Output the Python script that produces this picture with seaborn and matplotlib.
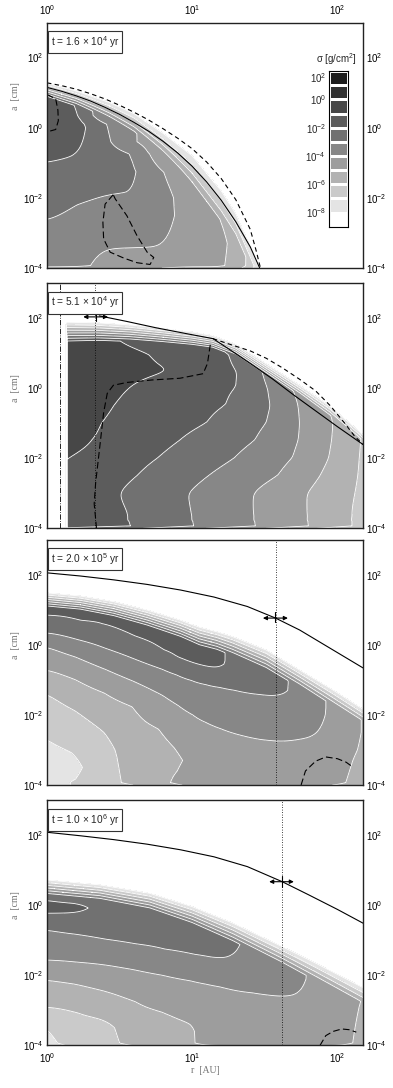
import numpy as np
import matplotlib
matplotlib.use("Agg")
import matplotlib.pyplot as plt
import matplotlib.ticker as mticker
from matplotlib.colors import ListedColormap, BoundaryNorm
import seaborn as sns

sns.set_style("ticks")
plt.rcParams["font.family"] = ["Liberation Sans", "DejaVu Sans"]
plt.rcParams["mathtext.default"] = "regular"
plt.rcParams["mathtext.fontset"] = "cm"

# ── COLOUR LEVELS (log10 sigma) ───────────────────────────────
levels = np.arange(-9, 3)
band_colors = ["#ffffff", "#e4e4e4", "#cacaca", "#b2b2b2", "#9d9d9d", "#878787",
               "#717171", "#5c5c5c", "#474747", "#303030", "#1c1c1c"]
cbar_ticks = [2, 0, -2, -4, -6, -8]
times = ["t = 1.6 × 10$^{4}$ yr", "t = 5.1 × 10$^{4}$ yr",
         "t = 2.0 × 10$^{5}$ yr", "t = 1.0 × 10$^{6}$ yr"]

# ── PANEL 1 (profiles along columns of log r: log a knots, log sigma) ──
p1_cols = [0.0, 0.2, 0.4, 0.6, 0.8, 1.0, 1.2, 1.4, 1.5, 2.3]
p1_a = [[-4.0, -3.93, -3.5, -2.65, -1.0, 0.0, 0.5, 3.0],
        [-4.0, -3.93, -3.5, -2.2, -0.8, 0.0, 0.7, 3.0],
        [-4.0, -3.93, -3.45, -1.92, -1.0, 0.1, 0.35, 3.0],
        [-4.0, -3.93, -3.5, -1.83, -1.25, -0.75, -0.4, 3.0],
        [-4.0, -3.93, -3.5, -2.5, -2.0, -1.27, -0.71, 3.0],
        [-4.0, -3.93, -3.5, -2.5, -1.53, 3.0],
        [-4.0, -3.93, -3.3, -2.65, 3.0],
        [-4.0, -3.93, 3.0],
        [-4.0, 3.0],
        [-4.0, 3.0]]
p1_v = [[-4.3, -3.6, -3.5, -3.0, -2.0, -1.3, -1.2, -1.2],
        [-4.4, -3.7, -3.6, -3.0, -2.0, -1.5, -2.0, -3.0],
        [-4.6, -4.3, -4.0, -3.0, -2.5, -3.0, -3.9, -3.9],
        [-4.8, -4.5, -4.05, -3.0, -2.85, -3.0, -3.9, -3.9],
        [-5.0, -4.6, -4.05, -3.6, -3.55, -4.0, -4.95, -4.95],
        [-5.3, -4.7, -4.6, -4.6, -4.95, -4.95],
        [-5.2, -4.8, -4.7, -4.95, -4.95],
        [-6.2, -5.95, -5.95],
        [-9.0, -9.0],
        [-12.0, -12.0]]
p1_edge_r = [0.0, 0.2, 0.43, 0.6, 0.8, 1.0, 1.2, 1.3, 1.4, 1.47, 1.6, 2.3]
p1_edge_a = [1.27, 1.05, 0.72, 0.40, -0.16, -0.8, -1.8, -2.45, -3.4, -4.1, -6.0, -10.0]
p1_edge_s = [16, 14, 10, 8, 6, 4, 3.5, 3.5, 3.5, 3.5, 3.5, 3.5]
p1_solid_r = [0.0, 0.1, 0.2, 0.3, 0.4, 0.5, 0.6, 0.7, 0.8, 0.9, 1.0, 1.1, 1.2, 1.3, 1.4, 1.47]
p1_solid_a = [1.15, 1.04, 0.91, 0.76, 0.58, 0.38, 0.15, -0.1, -0.39, -0.72, -1.1, -1.55,
              -2.07, -2.68, -3.4, -4.05]
p1_dash_r = [0.0, 0.1, 0.2, 0.3, 0.4, 0.5, 0.6, 0.7, 0.8, 0.9, 1.0, 1.1, 1.2, 1.3, 1.4, 1.44, 1.47]
p1_dash_a = [1.28, 1.2, 1.1, 0.97, 0.82, 0.64, 0.44, 0.22, -0.03, -0.3, -0.6, -0.98, -1.45,
             -2.05, -2.9, -3.5, -4.0]
p1_loop_r = [0.456, 0.40, 0.385, 0.39, 0.435, 0.53, 0.62, 0.71, 0.735, 0.69, 0.62, 0.55, 0.47, 0.456]
p1_loop_a = [-1.91, -2.18, -2.70, -3.17, -3.55, -3.72, -3.85, -3.9, -3.7, -3.55, -3.08, -2.51, -2.03, -1.91]
p1_arc_r = [0.0, 0.06, 0.075, 0.078, 0.06, 0.0]
p1_arc_a = [0.95, 0.82, 0.5, 0.2, -0.05, -0.12]

# ── PANEL 2 (profiles along rows of log a: log r knots, log sigma) ──
p2_rows = [-4.0, -3.93, -3.5, -3.0, -2.5, -2.0, -1.5, -1.0, -0.5, 0.0, 0.5, 1.0, 1.5, 3.0]
p2_r = [[0, 0.125, 0.14, 0.575, 1.01, 1.435, 1.80, 2.10, 2.3],
        [0, 0.125, 0.14, 0.575, 1.01, 1.435, 1.80, 2.10, 2.3],
        [0, 0.125, 0.14, 0.55, 0.99, 1.42, 1.79, 2.10, 2.3],
        [0, 0.125, 0.14, 0.50, 0.97, 1.42, 1.79, 2.12, 2.3],
        [0, 0.125, 0.14, 0.62, 1.11, 1.59, 1.88, 2.14, 2.3],
        [0, 0.125, 0.14, 0.76, 1.29, 1.69, 1.94, 2.15, 2.3],
        [0, 0.125, 0.14, 0.31, 0.91, 1.43, 1.73, 1.96, 2.16, 2.3],
        [0, 0.125, 0.14, 0.375, 1.10, 1.51, 1.74, 1.97, 2.17, 2.3],
        [0, 0.125, 0.14, 0.46, 1.23, 1.54, 1.73, 1.93, 2.2],
        [0, 0.125, 0.14, 0.56, 1.30, 1.52, 1.69, 1.90, 2.2],
        [0, 0.125, 0.14, 0.88, 1.31, 1.48, 1.63, 1.85, 2.2],
        [0, 0.125, 0.14, 0.70, 1.25, 1.42, 1.60, 2.2],
        [0, 0.125, 0.14, 0.45, 1.10, 1.40, 2.2],
        [0, 0.125, 0.14, 0.45, 1.10, 1.40, 2.2]]
p2_v = [[-12, -12, -2.2, -2.8, -3.8, -4.8, -5.8, -6.8, -7.5],
        [-12, -12, -1.4, -2, -3, -4, -5, -6, -6.7],
        [-12, -12, -1.35, -2, -3, -4, -5, -6, -6.7],
        [-12, -12, -1.3, -2, -3, -4, -5, -6, -6.6],
        [-12, -12, -1.2, -2, -3, -4, -5, -6, -6.6],
        [-12, -12, -1.0, -2, -3, -4, -5, -6, -6.6],
        [-12, -12, -0.6, -1, -2, -3, -4, -5, -6, -6.6],
        [-12, -12, -0.5, -1, -2, -3, -4, -5, -6, -6.6],
        [-12, -12, -0.5, -1, -2, -3, -4, -5, -6],
        [-12, -12, -0.5, -1, -2, -3, -4, -5, -6],
        [-12, -12, -0.5, -1, -2, -3, -4, -5, -6],
        [-12, -12, -0.5, -1, -2, -3, -4, -6],
        [-12, -12, -0.5, -1, -2, -3, -6],
        [-12, -12, -0.5, -1, -2, -3, -6]]
p2_edge_r = [0.13, 0.35, 0.57, 0.8, 1.0, 1.14, 1.3, 1.5, 1.74, 1.95, 2.1, 2.25]
p2_edge_a = [1.88, 1.86, 1.80, 1.70, 1.60, 1.50, 1.25, 0.72, 0.08, -0.52, -1.05, -1.6]
p2_edge_s = [13, 14, 15, 16, 17, 18, 18, 16, 14, 12, 12, 12]
p2_solid_r = [0.36, 0.55, 0.75, 0.95, 1.143, 1.25, 1.4, 1.55, 1.7, 1.85, 2.0, 2.18]
p2_solid_a = [2.06, 1.9, 1.72, 1.56, 1.41, 1.12, 0.7, 0.27, -0.2, -0.65, -1.1, -1.62]
p2_dash_r = [1.143, 1.28, 1.4, 1.51, 1.62, 1.74, 1.85, 1.95, 2.05, 2.12, 2.18]
p2_dash_a = [1.41, 1.22, 1.06, 0.85, 0.58, 0.25, -0.08, -0.5, -1.0, -1.38, -1.62]
p2_snow_r = [0.341, 0.325, 0.335, 0.36, 0.39, 0.415, 0.457, 0.55, 0.72, 0.915, 1.075, 1.105, 1.125]
p2_snow_a = [-4.0, -3.3, -2.7, -1.8, -0.7, -0.15, 0.08, 0.16, 0.23, 0.28, 0.41, 0.7, 1.25]
p2_dashdot_r = 0.087
p2_dot_r = 0.333
p2_arrow_r = [0.25, 0.42]
p2_arrow_a = 2.03
p2_tick_a = [1.9, 2.16]

# ── PANEL 3 ───────────────────────────────────────────────────
p3_cols = [0.0, 0.2, 0.4, 0.6, 0.8, 0.9, 1.0, 1.1, 1.2, 1.3, 1.45, 1.6, 1.75, 1.9, 2.0, 2.1, 2.2]
p3_a = [[-4.0, -3.93, -2.62, -1.35, -0.70, -0.04, 0.35, 0.85, 1.1, 3.0],
        [-4.0, -3.93, -3.83, -3.5, -3.08, -1.89, -1.0, -0.35, 0.15, 0.7, 1.0, 3.0],
        [-4.0, -3.93, -3.0, -2.5, -1.38, -0.7, -0.1, 0.6, 1.0, 3.0],
        [-4.0, -3.93, -3.2, -1.77, -1.05, -0.4, 0.25, 0.6, 3.0],
        [-4.0, -3.93, -3.3, -2.41, -1.45, -0.7, -0.14, 0.3, 3.0],
        [-4.0, -3.93, -3.6, -3.3, -2.94, -1.73, -0.86, -0.35, 0.0, 3.0],
        [-4.0, -3.93, -3.3, -2.0, -1.02, -0.52, -0.3, 3.0],
        [-4.0, -3.93, -3.0, -2.22, -1.14, -0.64, -0.45, 3.0],
        [-4.0, -3.93, -3.0, -2.40, -1.22, -0.70, -0.55, 3.0],
        [-4.0, -3.93, -3.0, -2.55, -1.30, -0.8, 3.0],
        [-4.0, -3.93, -3.0, -2.70, -1.42, -1.1, 3.0],
        [-4.0, -3.93, -3.0, -2.77, -1.48, -1.3, 3.0],
        [-4.0, -3.93, -3.0, -2.70, -1.8, 3.0],
        [-4.0, -3.93, -3.0, -2.33, -2.0, 3.0],
        [-4.0, -3.93, -3.0, 3.0],
        [-4.0, -3.93, -3.3, -2.5, 3.0],
        [-4.0, -3.93, -3.0, 3.0]]
p3_v = [[-7.7, -7.5, -7.0, -6.0, -5.0, -4.0, -3.0, -2.0, -1.8, -1.8],
        [-6.8, -6.85, -7.0, -7.2, -7.0, -6.0, -5.0, -4.0, -3.0, -2.0, -1.8, -1.8],
        [-6.7, -6.5, -6.3, -6.0, -5.0, -4.0, -3.0, -2.0, -1.7, -1.7],
        [-5.9, -5.6, -5.5, -5.0, -4.0, -3.0, -2.0, -1.6, -1.6],
        [-5.8, -5.4, -5.3, -5.0, -4.0, -3.0, -2.0, -1.6, -1.6],
        [-4.9, -4.6, -5.0, -5.2, -5.0, -4.0, -3.0, -2.0, -1.6, -1.6],
        [-4.9, -4.5, -4.7, -4.0, -3.0, -2.0, -1.6, -1.6],
        [-4.9, -4.5, -4.5, -4.0, -3.0, -2.0, -1.7, -1.7],
        [-4.9, -4.5, -4.4, -4.0, -3.0, -2.0, -1.85, -1.85],
        [-4.9, -4.5, -4.35, -4.0, -3.0, -2.3, -2.3],
        [-4.9, -4.5, -4.3, -4.0, -3.0, -2.6, -2.6],
        [-4.9, -4.5, -4.2, -4.0, -3.0, -2.85, -2.85],
        [-4.9, -4.5, -4.2, -4.0, -3.2, -3.2],
        [-4.9, -4.6, -4.2, -4.0, -3.9, -3.9],
        [-5.0, -4.7, -4.4, -4.4],
        [-5.4, -5.2, -5.0, -4.6, -4.6],
        [-5.8, -5.6, -5.3, -5.3]]
p3_edge_r = [0.0, 0.23, 0.46, 0.69, 0.92, 1.05, 1.17, 1.28, 1.51, 1.74, 1.97, 2.2]
p3_edge_a = [1.48, 1.39, 1.23, 0.99, 0.70, 0.50, 0.37, 0.23, -0.15, -0.72, -1.29, -1.9]
p3_edge_s = [16, 16, 15, 14, 13, 12, 12, 11, 10, 10, 9, 9]
p3_solid_r = [0.0, 0.23, 0.46, 0.69, 0.92, 1.15, 1.38, 1.574, 1.74, 1.97, 2.18]
p3_solid_a = [2.05, 1.96, 1.85, 1.72, 1.56, 1.36, 1.09, 0.76, 0.42, -0.15, -0.67]
p3_arc_r = [1.75, 1.78, 1.85, 1.92, 2.0, 2.06, 2.11]
p3_arc_a = [-4.0, -3.6, -3.32, -3.2, -3.25, -3.35, -3.5]
p3_dot_r = 1.574
p3_arrow_r = [1.487, 1.659]
p3_arrow_a = 0.76
p3_tick_a = [0.66, 0.94]

# ── PANEL 4 ───────────────────────────────────────────────────
p4_cols = [0.0, 0.2, 0.4, 0.6, 0.8, 1.0, 1.1, 1.2, 1.4, 1.6, 1.75, 1.85, 1.95, 2.05, 2.15, 2.25]
p4_a = [[-4.0, -3.93, -3.4, -2.9, -2.13, -1.56, -0.70, -0.23, -0.05, 0.15, 0.3, 3.0],
        [-4.0, -3.93, -3.2, -3.07, -2.25, -1.62, -0.83, -0.22, -0.08, 0.05, 0.2, 3.0],
        [-4.0, -3.93, -3.5, -3.25, -2.45, -1.70, -0.97, -0.4, 3.0],
        [-4.0, -3.93, -3.4, -2.75, -1.84, -1.1, -0.6, 3.0],
        [-4.0, -3.93, -3.5, -3.05, -2.0, -1.25, -0.7, 3.0],
        [-4.0, -3.93, -3.6, -3.4, -2.16, -1.40, -0.9, 3.0],
        [-4.0, -3.93, -3.3, -2.8, -2.25, -1.48, -1.0, 3.0],
        [-4.0, -3.93, -3.2, -2.33, -1.55, -1.1, 3.0],
        [-4.0, -3.93, -3.2, -2.50, -1.8, 3.0],
        [-4.0, -3.93, -3.2, -2.61, -2.0, 3.0],
        [-4.0, -3.93, -3.2, -2.56, -2.1, 3.0],
        [-4.0, -3.93, -3.0, 3.0],
        [-4.0, -3.93, 3.0],
        [-4.0, -3.93, 3.0],
        [-4.0, -3.93, -2.9, -2.5, 3.0],
        [-4.0, -3.93, 3.0]]
p4_v = [[-7.5, -7.3, -7.0, -6.0, -5.0, -4.0, -3.0, -2.0, -1.6, -2.0, -2.6, -2.6],
        [-6.7, -6.5, -6.1, -6.0, -5.0, -4.0, -3.0, -2.0, -1.7, -2.0, -2.6, -2.6],
        [-6.6, -6.4, -6.3, -6.0, -5.0, -4.0, -3.0, -2.4, -2.4],
        [-5.9, -5.6, -5.4, -5.0, -4.0, -3.0, -2.5, -2.5],
        [-5.8, -5.5, -5.3, -5.0, -4.0, -3.0, -2.6, -2.6],
        [-5.3, -5.15, -5.1, -5.0, -4.0, -3.0, -2.6, -2.6],
        [-5.0, -4.6, -4.8, -4.5, -4.0, -3.0, -2.7, -2.7],
        [-5.0, -4.6, -4.7, -4.0, -3.0, -2.8, -2.8],
        [-5.0, -4.6, -4.5, -4.0, -3.1, -3.1],
        [-5.0, -4.6, -4.4, -4.0, -3.6, -3.6],
        [-5.0, -4.6, -4.3, -4.0, -3.8, -3.8],
        [-5.0, -4.6, -4.3, -4.2],
        [-5.0, -4.7, -4.4],
        [-5.0, -4.75, -4.6],
        [-5.4, -5.2, -5.0, -4.9, -4.9],
        [-5.6, -5.4, -5.2]]
p4_edge_r = [0.0, 0.364, 0.708, 1.0, 1.28, 1.62, 1.85, 2.2]
p4_edge_a = [0.72, 0.58, 0.34, -0.04, -0.51, -1.18, -1.65, -2.4]
p4_edge_s = [13, 13, 12, 11, 10, 9, 8, 7]
p4_solid_r = [0.0, 0.23, 0.46, 0.69, 0.92, 1.15, 1.38, 1.62, 1.8, 2.0, 2.18]
p4_solid_a = [2.08, 1.98, 1.87, 1.74, 1.58, 1.38, 1.1, 0.67, 0.3, -0.12, -0.52]
p4_arc_r = [1.88, 1.92, 1.97, 2.03, 2.08, 2.13]
p4_arc_a = [-4.0, -3.72, -3.6, -3.53, -3.55, -3.62]
p4_dot_r = 1.62
p4_arrow_r = [1.53, 1.70]
p4_arrow_a = 0.67
p4_tick_a = [0.51, 0.83]

# ── FIELD HELPERS ─────────────────────────────────────────────
lr = np.linspace(0.0, 2.2, 441)
la = np.linspace(-4.0, 3.0, 701)
RR, AA = np.meshgrid(10 ** lr, 10 ** la)


def from_columns(cols, ka, kv):
    cv = np.array([np.interp(la, a, v) for a, v in zip(ka, kv)])
    return np.array([np.interp(lr, cols, cv[:, j]) for j in range(len(la))])


def from_rows(rows, kr, kv):
    rv = np.array([np.interp(lr, r, v) for r, v in zip(kr, kv)])
    return np.array([np.interp(la, rows, rv[:, i]) for i in range(len(lr))]).T


def smooth(Z, sig, axis):
    x = np.arange(-3 * sig, 3 * sig + 1)
    w = np.exp(-0.5 * (x / sig) ** 2)
    w /= w.sum()
    pad = [(0, 0), (0, 0)]
    pad[axis] = (len(w) // 2, len(w) // 2)
    Zp = np.pad(Z, pad, mode="edge")
    return np.apply_along_axis(lambda v: np.convolve(v, w, mode="valid"), axis, Zp)


def cap(Z, er, ea, es):
    e = np.interp(lr, er, ea)
    s = np.interp(lr, er, es)
    return np.minimum(Z, -8 + s[None, :] * (e[None, :] - la[:, None]))


Z2 = from_rows(p2_rows, p2_r, p2_v)
w_bot = np.clip((la + 3.8) / 0.12, 0, 1)[:, None]
Z2 = w_bot * smooth(Z2, 11, 0) + (1 - w_bot) * Z2

fields = [
    cap(smooth(from_columns(p1_cols, p1_a, p1_v), 11, 1), p1_edge_r, p1_edge_a, p1_edge_s),
    cap(Z2, p2_edge_r, p2_edge_a, p2_edge_s),
    cap(smooth(from_columns(p3_cols, p3_a, p3_v), 12, 1), p3_edge_r, p3_edge_a, p3_edge_s),
    cap(smooth(from_columns(p4_cols, p4_a, p4_v), 12, 1), p4_edge_r, p4_edge_a, p4_edge_s),
]

cmap = ListedColormap(band_colors)
cmap.set_under("#ffffff")
cmap.set_over("#1c1c1c")
norm = BoundaryNorm(levels, cmap.N)


def line(ax, r, a, **kw):
    sns.lineplot(x=10 ** np.asarray(r), y=10 ** np.asarray(a), ax=ax, sort=False,
                 estimator=None, legend=False, color="k", **kw)


def arrow(ax, r, a, tick):
    ax.annotate("", xy=(10 ** r[0], 10 ** a), xytext=(10 ** r[1], 10 ** a),
                arrowprops=dict(arrowstyle="<|-|>", color="k", lw=0.8,
                                mutation_scale=6, shrinkA=0, shrinkB=0))
    rc = 0.5 * (r[0] + r[1])
    line(ax, [rc, rc], tick, lw=0.8)


# ── FIGURE ────────────────────────────────────────────────────
fig = plt.figure(figsize=(3.93, 10.88), dpi=100)
bottoms = [0.7537, 0.5144, 0.2785, 0.0391]
axes = [fig.add_axes([0.1196, b, 0.804, 0.2256]) for b in bottoms]

for i, (ax, Z) in enumerate(zip(axes, fields)):
    ax.set_xscale("log")
    ax.set_yscale("log")
    ax.contourf(RR, AA, Z, levels=levels, cmap=cmap, norm=norm, extend="both")
    ax.contour(RR, AA, Z, levels=np.arange(-8, 2), colors="white",
               linewidths=0.6, linestyles="solid")
    ax.set_xlim(1, 150)
    ax.set_ylim(1e-4, 1e3)
    ax.xaxis.set_major_locator(mticker.FixedLocator([1, 10, 100]))
    ax.xaxis.set_minor_locator(mticker.LogLocator(base=10, subs=np.arange(2, 10)))
    ax.xaxis.set_minor_formatter(mticker.NullFormatter())
    ax.yaxis.set_major_locator(mticker.FixedLocator([1e-4, 1e-2, 1, 1e2]))
    ax.yaxis.set_minor_locator(mticker.NullLocator())
    ax.xaxis.set_major_formatter(mticker.LogFormatterSciNotation())
    ax.yaxis.set_major_formatter(mticker.LogFormatterSciNotation())
    ax.tick_params(which="both", direction="in", top=True, right=True, bottom=True,
                   left=True, labelsize=7, width=0.6, colors="k",
                   labelleft=True, labelright=True,
                   labeltop=(i == 0), labelbottom=(i == 3), pad=2.5)
    ax.tick_params(axis="x", which="both", pad=4)
    ax.tick_params(which="major", length=3.5)
    ax.tick_params(which="minor", length=2)
    for sp in ax.spines.values():
        sp.set_linewidth(1.0)
        sp.set_color("#222222")
    ax.set_ylabel("a  [cm]", fontfamily="Liberation Serif", fontsize=7, color="0.45")
    ax.yaxis.set_label_coords(-0.085, 0.70 if i == 0 else 0.571)
    ax.text(0.012, 0.952, times[i], transform=ax.transAxes, ha="left", va="top",
            fontsize=7.3, bbox=dict(boxstyle="square,pad=0.3", fc="white",
                                    ec="#333333", lw=0.8), zorder=10)

# panel 1 lines
ax = axes[0]
line(ax, p1_solid_r, p1_solid_a, lw=0.8)
line(ax, p1_dash_r, p1_dash_a, lw=0.8, linestyle=(0, (4, 3)))
line(ax, p1_loop_r, p1_loop_a, lw=0.8, linestyle=(0, (6, 3)))
line(ax, p1_arc_r, p1_arc_a, lw=0.8, linestyle=(0, (6, 3)))

# colour bar inset drawn as a seaborn heatmap
cax = ax.inset_axes([0.892, 0.168, 0.060, 0.634])
band_index = np.arange(len(band_colors))[::-1][:, None]
sns.heatmap(band_index, ax=cax, cmap=ListedColormap(band_colors), vmin=-0.5,
            vmax=len(band_colors) - 0.5, cbar=False, linewidths=0.8,
            linecolor="white", xticklabels=False, yticklabels=False)
cax.set_yticks([max(2 - t, 0.4) for t in cbar_ticks])
cax.set_yticklabels([f"$\\mathdefault{{10^{{{t}}}}}$" for t in cbar_ticks], fontsize=7)
cax.tick_params(axis="y", left=True, length=0, pad=2, labelrotation=0)
for sp in cax.spines.values():
    sp.set_visible(True)
    sp.set_color("k")
    sp.set_linewidth(0.8)
ax.text(0.915, 0.852, r"$\sigma$ [g/cm$^2$]", transform=ax.transAxes,
        ha="center", va="center", fontsize=7)

# panel 2 lines
ax = axes[1]
ax.axvline(10 ** p2_dashdot_r, color="k", lw=0.6, linestyle="-.")
ax.axvline(10 ** p2_dot_r, color="k", lw=0.6, linestyle=(0, (1, 2)))
line(ax, p2_solid_r, p2_solid_a, lw=0.8)
line(ax, p2_dash_r, p2_dash_a, lw=0.8, linestyle=(0, (4, 3)))
line(ax, p2_snow_r, p2_snow_a, lw=0.8, linestyle=(0, (6, 3)))
arrow(ax, p2_arrow_r, p2_arrow_a, p2_tick_a)

# panel 3 lines
ax = axes[2]
ax.axvline(10 ** p3_dot_r, color="k", lw=0.6, linestyle=(0, (1, 2)))
line(ax, p3_solid_r, p3_solid_a, lw=0.8)
line(ax, p3_arc_r, p3_arc_a, lw=0.8, linestyle=(0, (6, 3)))
arrow(ax, p3_arrow_r, p3_arrow_a, p3_tick_a)

# panel 4 lines
ax = axes[3]
ax.axvline(10 ** p4_dot_r, color="k", lw=0.6, linestyle=(0, (1, 2)))
line(ax, p4_solid_r, p4_solid_a, lw=0.8)
line(ax, p4_arc_r, p4_arc_a, lw=0.8, linestyle=(0, (6, 3)))
arrow(ax, p4_arrow_r, p4_arrow_a, p4_tick_a)
ax.set_xlabel("r  [AU]", fontfamily="Liberation Serif", fontsize=7, color="0.45",
              labelpad=1)

fig.savefig("out.png", dpi=100)
